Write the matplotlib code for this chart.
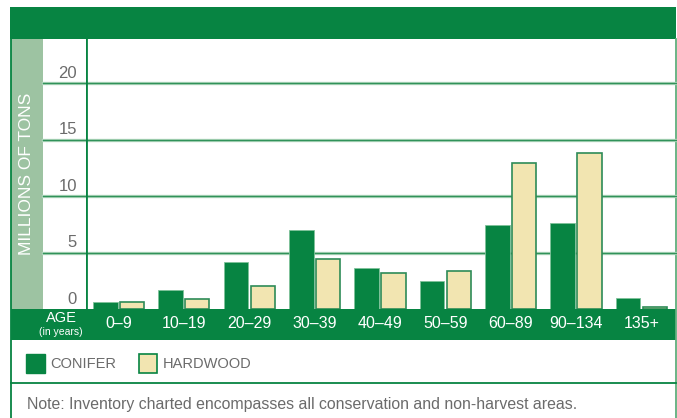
import matplotlib
matplotlib.use("Agg")
import matplotlib.pyplot as plt
from matplotlib.patches import Rectangle
import numpy as np

plt.rcParams["font.family"] = ["Liberation Sans", "DejaVu Sans"]

# ── data ──────────────────────────────────────────────────────────────────
ages = ["0–9", "10–19", "20–29", "30–39", "40–49", "50–59", "60–89", "90–134", "135+"]
conifer = [0.65, 1.65, 4.2, 7.0, 3.6, 2.45, 7.45, 7.6, 1.0]
hardwood = [0.65, 0.85, 2.05, 4.4, 3.15, 3.4, 12.95, 13.8, 0.2]
yticks = [0, 5, 10, 15, 20]

GREEN = "#078442"
STRIP = "#9DC3A2"
HARD = "#F2E5B1"
GRAY = "#6b6b6b"
W, H = 677, 418

fig = plt.figure(figsize=(W / 100, H / 100), dpi=100)

# pixel overlay for the frame, bands, legend and note
bg = fig.add_axes([0, 0, 1, 1])
bg.set_xlim(0, W); bg.set_ylim(H, 0); bg.axis("off")
bg.add_patch(Rectangle((10, 7), 666, 32, color=GREEN, lw=0))          # header band
bg.add_patch(Rectangle((11, 39), 32, 270, color=STRIP, lw=0))         # y-label strip
bg.add_patch(Rectangle((11, 309), 665, 31, color=GREEN, lw=0))        # x-label band
bg.plot([11, 11], [39, H], color=GREEN, lw=1.3)
bg.plot([675.5, 675.5], [39, H], color="#5FAF7C", lw=1.3)
bg.plot([11, 676], [383, 383], color=GREEN, lw=1.3)
bg.text(27, 174, "MILLIONS OF TONS", rotation=90, color="white", fontsize=12.5,
        ha="center", va="center")
bg.text(61, 318, "AGE", color="white", fontsize=10.5, ha="center", va="center")
bg.text(61, 332, "(in years)", color="white", fontsize=7.5, ha="center", va="center")
# legend
bg.add_patch(Rectangle((26, 354), 19, 19, facecolor=GREEN, edgecolor=GREEN, lw=1))
bg.text(50, 364, "CONIFER", color=GRAY, fontsize=10.5, va="center")
bg.add_patch(Rectangle((139, 354), 18, 19, facecolor=HARD, edgecolor=GREEN, lw=1.2))
bg.text(163, 364, "HARDWOOD", color=GRAY, fontsize=10.5, va="center")
bg.text(27, 404, "Note: Inventory charted encompasses all conservation and non-harvest areas.",
        color=GRAY, fontsize=11.4, va="center")

# main plot area
x0, x1, ytop, ybot = 86, 676, 39, 309
ax = fig.add_axes([x0 / W, (H - ybot) / H, (x1 - x0) / W, (ybot - ytop) / H])
ax.patch.set_alpha(0)
ax.set_xlim(-0.5, 8.53)
ax.set_ylim(0, 23.9)
for s in ax.spines.values():
    s.set_visible(False)
ax.set_xticks([]); ax.set_yticks([])

x = np.arange(len(ages))
xmin_ext = (43 - x0) / (x1 - x0)
for v in yticks[1:]:
    ax.axhline(v, xmin=xmin_ext, xmax=1, color="#B5DAC0", lw=2.4, clip_on=False, zorder=1)
    ax.axhline(v, xmin=xmin_ext, xmax=1, color="#31925A", lw=1.0, clip_on=False, zorder=1)
ax.axvline(-0.5, color=GREEN, lw=2, zorder=4)

ax.bar(x - 0.205, conifer, width=0.38, color=GREEN, edgecolor="#7FC29A", lw=0.6, zorder=3)
ax.bar(x + 0.205, hardwood, width=0.37, color=HARD, edgecolor="#2E8B57", lw=1.2, zorder=3)

for v in yticks:
    ax.text(-0.64, v + 0.2, str(v), color=GRAY, fontsize=12, ha="right", va="bottom")
for xi, lab in zip(x, ages):
    ax.text(xi, -1.3, lab, color="white", fontsize=11.5, ha="center", va="center",
            clip_on=False)

fig.savefig("out.png", dpi=100)
